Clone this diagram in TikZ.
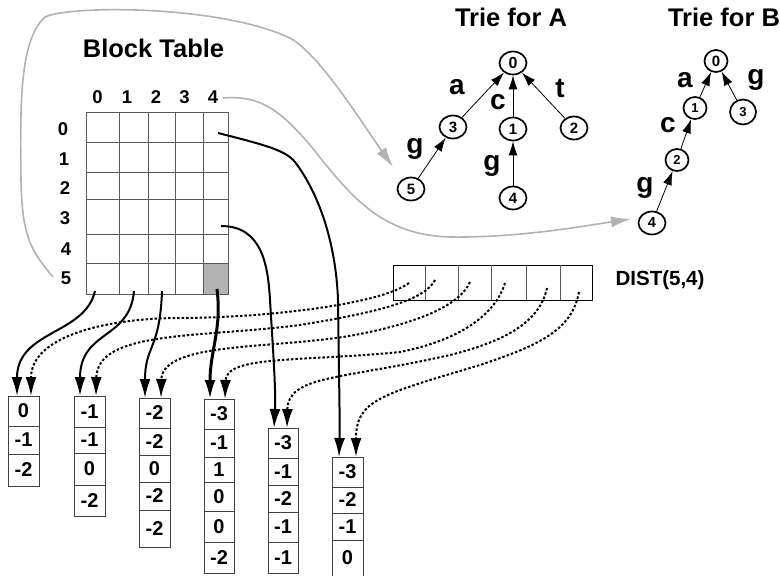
\documentclass[tikz,border=0pt]{standalone}
\usepackage{fontspec}
\setmainfont{Liberation Sans}
\usetikzlibrary{arrows.meta,shapes.geometric}
\tikzset{
  title/.style={font=\bfseries\fontsize{25.5}{26}\selectfont, inner sep=0pt},
  axlbl/.style={font=\bfseries\fontsize{18.5}{19}\selectfont, inner sep=0pt},
  elbl/.style={font=\bfseries\fontsize{28}{28}\selectfont, inner sep=0pt},
  distlbl/.style={font=\bfseries\fontsize{20.5}{21}\selectfont, inner sep=0pt},
  tnode/.style={draw, ellipse, line width=1.7pt, minimum width=27pt, minimum height=23pt, inner sep=0pt, font=\bfseries\fontsize{15}{15}\selectfont},
  troot/.style={tnode, font=\bfseries\fontsize{16}{16}\selectfont},
  bnode/.style={draw, ellipse, line width=1.7pt, minimum width=23pt, minimum height=22pt, inner sep=0pt, font=\bfseries\fontsize{13}{13}\selectfont},
  tedge/.style={line width=0.8pt, -{Latex[length=14pt,width=9pt]}},
  gridln/.style={line width=1pt, draw=black!65},
  cellval/.style={font=\bfseries\fontsize{20}{20}\selectfont, inner sep=0pt},
  solidarr/.style={line width=2pt, -{Latex[length=19pt,width=11pt]}},
  thickarr/.style={line width=3pt, -{Latex[length=19pt,width=11pt]}},
  dotarr/.style={line width=2pt, dash pattern=on 2.5pt off 2pt, -{Latex[length=19pt,width=11pt]}},
  grayarr/.style={line width=1.6pt, draw=black!30, -{Latex[length=20pt,width=11pt]}},
  boxfr/.style={line width=1pt, draw=black!75},
}
\begin{document}
\begin{tikzpicture}[x=1pt,y=-1pt]
\useasboundingbox (0,0) rectangle (780,576);

% ---------- titles ----------
\node[title] (btitle) at (153.5,48) {Block Table};
\node[title] (ta) at (511,17) {Trie for A};
\node[title] (tb) at (724,17) {Trie for B};

% ---------- block table ----------
\fill[black!30] (204,263) rectangle (228.5,293.5);
\foreach \x in {86,119,148,175,203.5,228.5} \draw[gridln] (\x,112) -- (\x,294);
\foreach \y in {112,142,172,199,234,263.5,294} \draw[gridln] (86,\y) -- (228.5,\y);

\node[axlbl] (c0) at (97.5,97) {0};
\node[axlbl] (c1) at (127,97) {1};
\node[axlbl] (c2) at (156,97) {2};
\node[axlbl] (c3) at (184.5,97) {3};
\node[axlbl] (c4) at (213,97) {4};
\node[axlbl] (r0) at (63,129.5) {0};
\node[axlbl] (r1) at (64,159) {1};
\node[axlbl] (r2) at (65,188) {2};
\node[axlbl] (r3) at (65,218) {3};
\node[axlbl] (r4) at (66,249) {4};
\node[axlbl] (r5) at (66,278) {5};

% ---------- trie A ----------
\node[troot] (a0) at (513,63) {0};
\node[tnode] (a3) at (453,127) {3};
\node[tnode] (a1) at (513,129) {1};
\node[tnode] (a2) at (574,128) {2};
\node[tnode] (a5) at (411,189) {5};
\node[tnode] (a4) at (513,198) {4};
\draw[tedge] (a3) -- (a0);
\draw[tedge] (a1) -- (a0);
\draw[tedge] (a2) -- (a0);
\draw[tedge] (a5) -- (a3);
\draw[tedge] (a4) -- (a1);
\node[elbl] (la) at (457,87) {a};
\node[elbl] (lc) at (498,102) {c};
\node[elbl] (lt) at (560,88) {t};
\node[elbl] (lg1) at (415,149) {g};
\node[elbl] (lg2) at (492,166) {g};

% ---------- trie B ----------
\node[bnode, font=\bfseries\fontsize{15}{15}\selectfont] (b0) at (716,61) {0};
\node[bnode] (b1) at (695,108) {1};
\node[bnode, minimum width=26pt, minimum height=25pt] (b3) at (743,112) {3};
\node[bnode] (b2) at (677,160) {2};
\node[bnode, minimum width=27pt, minimum height=23pt, font=\bfseries\fontsize{14.5}{15}\selectfont] (b4) at (652,223) {4};
\draw[tedge] (b1) -- (b0);
\draw[tedge] (b3) -- (b0);
\draw[tedge] (b2) -- (b1);
\draw[tedge] (b4) -- (b2);
\node[elbl] (lba) at (685,80) {a};
\node[elbl] (lbg) at (756,80) {g};
\node[elbl] (lbc) at (668,125) {c};
\node[elbl] (lbg2) at (645,188) {g};

% ---------- gray curves ----------
\coordinate (gAs) at (53,277);
\coordinate (gAe) at (393,167);
\draw[grayarr] (gAs) .. controls (30,250) and (22,235) .. (21,180)
   .. controls (20,100) and (20,40) .. (45,17)
   .. controls (70,5) and (220,5) .. (290,38)
   .. controls (320,55) and (360,120) .. (gAe);
\coordinate (gBs) at (223,98);
\coordinate (gBe) at (631,219);
\draw[grayarr] (gBs) .. controls (260,95) and (280,110) .. (310,145)
   .. controls (350,195) and (380,235) .. (450,237)
   .. controls (520,238) and (590,225) .. (gBe);

% ---------- DIST box ----------
\draw[line width=1pt] (393,265) rectangle (592,300);
\foreach \x in {425,458,491,526,560} \draw[line width=1pt, draw=black!65] (\x,265) -- (\x,300);
\node[distlbl] (dist) at (660,280) {DIST(5,4)};

% ---------- lower columns ----------
% box 1
\draw[boxfr] (8,396) rectangle (39,486);
\foreach \y in {426,454} \draw[boxfr] (8,\y) -- (39,\y);
\node[cellval] (v11) at (23.5,411) {0};
\node[cellval] (v12) at (23.5,440) {-1};
\node[cellval] (v13) at (23.5,470) {-2};
% box 2
\draw[boxfr] (74,396) rectangle (105,516);
\foreach \y in {427,453,485} \draw[boxfr] (74,\y) -- (105,\y);
\node[cellval] (v21) at (89.5,411.5) {-1};
\node[cellval] (v22) at (89.5,440) {-1};
\node[cellval] (v23) at (89.5,469) {0};
\node[cellval] (v24) at (89.5,500.5) {-2};
% box 3
\draw[boxfr] (139,398) rectangle (170,547);
\foreach \y in {428,455,482,510} \draw[boxfr] (139,\y) -- (170,\y);
\node[cellval] (v31) at (154.5,413) {-2};
\node[cellval] (v32) at (154.5,441.5) {-2};
\node[cellval] (v33) at (154.5,468.5) {0};
\node[cellval] (v34) at (154.5,496) {-2};
\node[cellval] (v35) at (154.5,528.5) {-2};
% box 4
\draw[boxfr] (204,399) rectangle (234,573);
\foreach \y in {429,457,482,511,542} \draw[boxfr] (204,\y) -- (234,\y);
\node[cellval] (v41) at (219,414) {-3};
\node[cellval] (v42) at (219,443) {-1};
\node[cellval] (v43) at (219,469.5) {1};
\node[cellval] (v44) at (219,496.5) {0};
\node[cellval] (v45) at (219,526.5) {0};
\node[cellval] (v46) at (219,557.5) {-2};
% box 5
\draw[boxfr] (268,428) rectangle (298,573);
\foreach \y in {458,485,512,542} \draw[boxfr] (268,\y) -- (298,\y);
\node[cellval] (v51) at (283,443) {-3};
\node[cellval] (v52) at (283,471.5) {-1};
\node[cellval] (v53) at (283,498.5) {-2};
\node[cellval] (v54) at (283,527) {-1};
\node[cellval] (v55) at (283,557.5) {-1};
% box 6
\draw[boxfr] (332,457) rectangle (363,576);
\foreach \y in {487,513,540} \draw[boxfr] (332,\y) -- (363,\y);
\node[cellval] (v61) at (347.5,472) {-3};
\node[cellval] (v62) at (347.5,500) {-2};
\node[cellval] (v63) at (347.5,526.5) {-1};
\node[cellval] (v64) at (347.5,558) {0};

% ---------- arrow endpoints ----------
\coordinate (s1) at (95,291);
\coordinate (s2) at (134,291);
\coordinate (s3) at (162,291);
\coordinate (s4) at (217,289);
\coordinate (s5) at (221,226);
\coordinate (s6) at (218,133);
\coordinate (t1) at (17,396);
\coordinate (t2) at (80,396);
\coordinate (t3) at (145,398);
\coordinate (t4) at (210,399);
\coordinate (t5) at (274,428);
\coordinate (t6) at (339,457);
\coordinate (d1) at (409,283);
\coordinate (d2) at (435,280);
\coordinate (d3) at (470,282);
\coordinate (d4) at (505,283);
\coordinate (d5) at (547,288);
\coordinate (d6) at (579,292);
\coordinate (e1) at (31,396);
\coordinate (e2) at (96,396);
\coordinate (e3) at (161,398);
\coordinate (e4) at (225,399);
\coordinate (e5) at (287,428);
\coordinate (e6) at (356,457);

% ---------- solid arrows ----------
\draw[solidarr] (s1) .. controls (85,335) and (17,330) .. (t1);
\draw[solidarr] (s2) .. controls (130,340) and (80,330) .. (t2);
\draw[solidarr] (s3) .. controls (160,350) and (145,345) .. (t3);
\draw[thickarr] (s4) .. controls (222,330) and (210,350) .. (t4);
\draw[solidarr] (s5) .. controls (262,226) and (268,265) .. (270,300)
   .. controls (273,350) and (276,390) .. (t5);
\draw[solidarr] (s6) .. controls (265,145) and (285,150) .. (295,162)
   .. controls (320,195) and (336,245) .. (338,300)
   .. controls (339,380) and (340,420) .. (t6);

% ---------- dotted arrows ----------
\draw[dotarr] (d1) .. controls (380,305) and (260,318) .. (180,318)
   .. controls (110,318) and (31,335) .. (e1);
\draw[dotarr] (d2) .. controls (425,300) and (380,312) .. (300,325)
   .. controls (200,338) and (97,330) .. (e2);
\draw[dotarr] (d3) .. controls (460,305) and (420,322) .. (360,334)
   .. controls (280,350) and (162,340) .. (e3);
\draw[dotarr] (d4) .. controls (495,315) and (460,340) .. (400,352)
   .. controls (300,362) and (226,355) .. (e4);
\draw[dotarr] (d5) .. controls (540,320) and (510,340) .. (450,355)
   .. controls (340,380) and (288,375) .. (e5);
\draw[dotarr] (d6) .. controls (572,330) and (540,345) .. (480,365)
   .. controls (380,395) and (356,400) .. (e6);
\end{tikzpicture}
\end{document}
